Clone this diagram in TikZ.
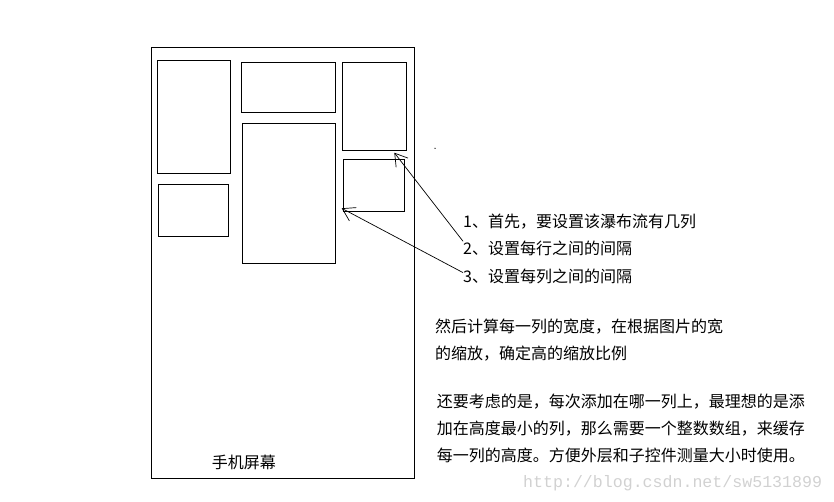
\documentclass[tikz,border=0pt]{standalone}
\usepackage{fontspec}
\newfontfamily\cjk{Noto Sans CJK SC}
\newfontfamily\wmfont{Liberation Mono}
\usetikzlibrary{arrows.meta,calc}
\begin{document}
\begin{tikzpicture}[x=1pt,y=-1pt,
  box/.style={draw, line width=1pt, inner sep=0pt, anchor=north west},
  txt/.style={inner sep=0pt, anchor=base west, font=\cjk\fontsize{16pt}{16pt}\selectfont},
  wm/.style={inner sep=0pt, anchor=base west, text=black!18, font=\wmfont\fontsize{16.6pt}{16.6pt}\selectfont},
  arr/.style={line width=0.7pt, -{Straight Barb[length=12pt,width=15pt]}}]
\useasboundingbox (0,0) rectangle (834,502);
% phone screen and items
\node[box, minimum width=263.8pt, minimum height=431pt] (screen) at (150.5,47.3) {};
\node[box, minimum width=73pt, minimum height=113pt] (A) at (157.3,60.3) {};
\node[box, minimum width=70pt, minimum height=52pt] (B) at (158.3,184.3) {};
\node[box, minimum width=94pt, minimum height=49.7pt] (C) at (241.3,62.3) {};
\node[box, minimum width=93pt, minimum height=140pt] (D) at (242.3,123.3) {};
\node[box, minimum width=63.4pt, minimum height=88pt] (E) at (342.3,62.3) {};
\node[box, minimum width=61pt, minimum height=52.3pt] (F) at (343.3,159) {};
\node[txt] (label) at (211.7,468.7) {手机屏幕};
% stray dot
\fill (435,148.3) circle (0.7pt);
% numbered notes
\node[txt] (t1) at (463,227.7) {1、首先，要设置该瀑布流有几列};
\node[txt] (t2) at (463,255) {2、设置每行之间的间隔};
\node[txt] (t3) at (463,282.7) {3、设置每列之间的间隔};
% paragraphs
\node[txt] (p1a) at (435,332.7) {然后计算每一列的宽度，在根据图片的宽};
\node[txt] (p1b) at (435,359.3) {的缩放，确定高的缩放比例};
\node[txt] (p2a) at (436.7,407.7) {还要考虑的是，每次添加在哪一列上，最理想的是添};
\node[txt] (p2b) at (436.7,434.3) {加在高度最小的列，那么需要一个整数数组，来缓存};
\node[txt] (p2c) at (436.7,461) {每一列的高度。方便外层和子控件测量大小时使用。};
\node[wm] (wmark) at (523,487.5) {http://blog.csdn.net/sw5131899};
% arrows
\coordinate (tipE) at (394.3,152.7);
\coordinate (tipD) at (341.7,208.3);
\draw[arr] (t2.north west) -- (tipE);
\draw[arr] ($(t3.west)+(0,-4)$) -- (tipD);
\end{tikzpicture}
\end{document}
